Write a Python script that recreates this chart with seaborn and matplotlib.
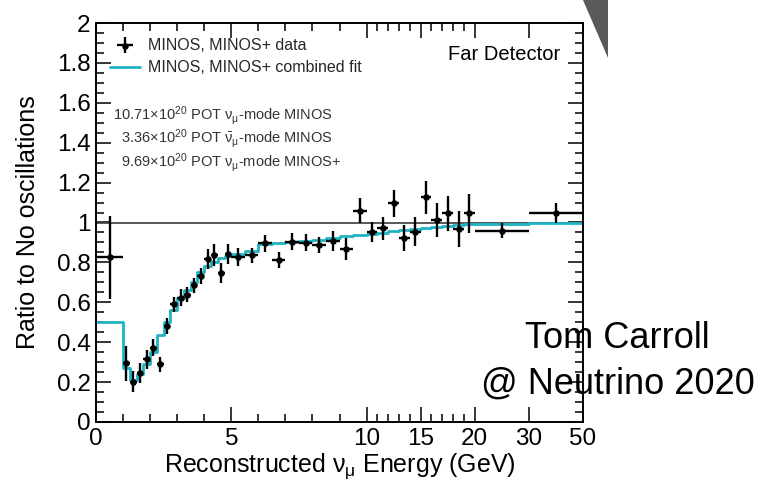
import numpy as np
import matplotlib
matplotlib.use("Agg")
import matplotlib.pyplot as plt
from matplotlib.patches import Polygon
from matplotlib.ticker import FixedLocator, MultipleLocator, FuncFormatter
import seaborn as sns

# Energy binning (GeV): 1 bin below 1 GeV, 0.25 GeV up to 5, 0.5 GeV up to 10,
# 1 GeV up to 20, then two wide bins.
bin_edges = [0, 1,
             1.25, 1.5, 1.75, 2.0, 2.25, 2.5, 2.75, 3.0,
             3.25, 3.5, 3.75, 4.0, 4.25, 4.5, 4.75, 5.0,
             5.5, 6.0, 6.5, 7.0, 7.5, 8.0, 8.5, 9.0, 9.5, 10.0,
             11, 12, 13, 14, 15, 16, 17, 18, 19, 20,
             30, 50]

# Far Detector data / no-oscillation ratio and its uncertainty
data_ratio = [0.825,
              0.294, 0.202, 0.244, 0.314, 0.373, 0.290, 0.481, 0.590,
              0.623, 0.637, 0.685, 0.732, 0.819, 0.837, 0.748, 0.843,
              0.826, 0.835, 0.896, 0.812, 0.904, 0.899, 0.887, 0.907, 0.867, 1.059,
              0.954, 0.971, 1.096, 0.921, 0.954, 1.126, 1.013, 1.046, 0.967, 1.046,
              0.959, 1.046]
data_err = [0.210,
            0.086, 0.053, 0.050, 0.046, 0.042, 0.038, 0.042, 0.038,
            0.042, 0.038, 0.038, 0.040, 0.050, 0.053, 0.050, 0.050,
            0.046, 0.038, 0.042, 0.038, 0.042, 0.042, 0.042, 0.050, 0.054, 0.063,
            0.050, 0.058, 0.068, 0.064, 0.073, 0.084, 0.084, 0.089, 0.092, 0.099,
            0.038, 0.050]

# Combined-fit prediction per bin
fit_ratio = [0.500,
             0.270, 0.210, 0.240, 0.290, 0.350, 0.435, 0.500, 0.560,
             0.620, 0.660, 0.700, 0.750, 0.780, 0.800, 0.820, 0.830,
             0.840, 0.855, 0.890, 0.895, 0.900, 0.905, 0.910, 0.920, 0.930, 0.935,
             0.940, 0.948, 0.955, 0.960, 0.966, 0.972, 0.978, 0.983, 0.987, 0.990,
             0.993, 0.995]

energy_ticks = [0, 5, 10, 15, 20, 30, 50]
energy_minor = [1, 2, 3, 4, 6, 7, 8, 9, 11, 12, 13, 14, 16, 17, 18, 19]

# Piecewise-linear energy axis: stretched below 10 GeV, compressed above
axis_knots_gev = [0, 10, 20, 30, 50]
axis_knots_pos = [0, 10, 14, 16, 18]

pot_lines = [r"10.71$\times$10$^{20}$ POT $\nu_{\mu}$-mode MINOS",
             r"3.36$\times$10$^{20}$ POT $\bar{\nu}_{\mu}$-mode MINOS",
             r"9.69$\times$10$^{20}$ POT $\nu_{\mu}$-mode MINOS+"]

sns.set_theme(style="ticks")
plt.rcParams["font.family"] = ["Liberation Sans", "DejaVu Sans"]
plt.rcParams["mathtext.fontset"] = "custom"
plt.rcParams["mathtext.rm"] = "Liberation Sans"
plt.rcParams["mathtext.it"] = "Liberation Sans"
plt.rcParams["mathtext.bf"] = "Liberation Sans:bold"
plt.rcParams["mathtext.sf"] = "Liberation Sans"

CYAN = "#1fb4c4"

fig = plt.figure(figsize=(7.7, 4.83), dpi=100)
ax = fig.add_axes([96 / 770, 1 - 422 / 483, 487 / 770, 399 / 483])


def to_axis(e):
    return np.interp(e, axis_knots_gev, axis_knots_pos)


def from_axis(u):
    return np.interp(u, axis_knots_pos, axis_knots_gev)


ax.set_xscale("function", functions=(to_axis, from_axis))

edges = np.array(bin_edges, dtype=float)
centers = 0.5 * (edges[:-1] + edges[1:])
half_width = 0.5 * (edges[1:] - edges[:-1])

ax.axhline(1.0, color="#3c3c3c", lw=1.2, zorder=1)

# Fit as a step histogram
sns.lineplot(x=edges, y=list(fit_ratio) + [fit_ratio[-1]], drawstyle="steps-post",
             estimator=None, sort=False, color=CYAN, lw=2.0, ax=ax, zorder=2,
             legend=False)

# Data points with bin-width and statistical error bars
eb = ax.errorbar(centers, data_ratio, xerr=half_width, yerr=data_err, fmt="none",
                 ecolor="black", elinewidth=1.7, capsize=0, zorder=3)
sc = sns.scatterplot(x=centers, y=data_ratio, color="black", s=22, edgecolor="black",
                     linewidth=0, ax=ax, zorder=4, legend=False)
pts = sc.collections[-1]

ax.set_xlim(0, 50)
ax.set_ylim(0, 2)
ax.xaxis.set_major_locator(FixedLocator(energy_ticks))
ax.xaxis.set_minor_locator(FixedLocator(energy_minor))
ax.xaxis.set_major_formatter(FuncFormatter(lambda v, p: f"{v:g}"))
ax.yaxis.set_major_locator(MultipleLocator(0.2))
ax.yaxis.set_minor_locator(MultipleLocator(0.05))
ax.yaxis.set_major_formatter(FuncFormatter(lambda v, p: f"{v:g}"))

ax.tick_params(which="both", direction="in", top=True, right=True,
               colors="black", width=1.1, labelsize=17.5, pad=4)
ax.tick_params(which="major", length=11)
ax.tick_params(which="minor", length=5.5)
for s in ax.spines.values():
    s.set_color("black")
    s.set_linewidth(1.4)

ax.set_xlabel(r"Reconstructed $\nu_{\mu}$ Energy (GeV)", fontsize=18, color="black",
              labelpad=1)
ax.set_ylabel("Ratio to No oscillations", fontsize=18, color="black", labelpad=12)

fit_handle = plt.Line2D([], [], color=CYAN, lw=2.0)
ax.legend([(eb, pts), fit_handle],
          ["MINOS, MINOS+ data", "MINOS, MINOS+ combined fit"],
          loc="upper left", bbox_to_anchor=(0.029, 0.962), frameon=False,
          fontsize=11.5, handlelength=1.9, handletextpad=0.5, borderpad=0,
          borderaxespad=0, labelspacing=0.45)

for txt, x, y in zip(pot_lines, [0.035, 0.051, 0.051], [0.757, 0.699, 0.639]):
    ax.text(x, y, txt, transform=ax.transAxes, fontsize=10.5, color="#333333",
            ha="left", va="baseline")

ax.text(0.953, 0.907, "Far Detector", transform=ax.transAxes, fontsize=14.5,
        color="black", ha="right", va="baseline")

fig.text(0.682, 0.2795, "Tom Carroll", fontsize=26, color="black",
         ha="left", va="baseline", zorder=10)
fig.text(0.6247, 0.186, "@ Neutrino 2020", fontsize=26, color="black",
         ha="left", va="baseline", zorder=10)

fig.add_artist(Polygon([(583 / 770, 1.0), (608 / 770, 1.0), (608 / 770, 1 - 58 / 483)],
                       closed=True, transform=fig.transFigure,
                       facecolor="#5a5a5a", edgecolor="none"))

fig.savefig("out.png", dpi=100, facecolor="white")
